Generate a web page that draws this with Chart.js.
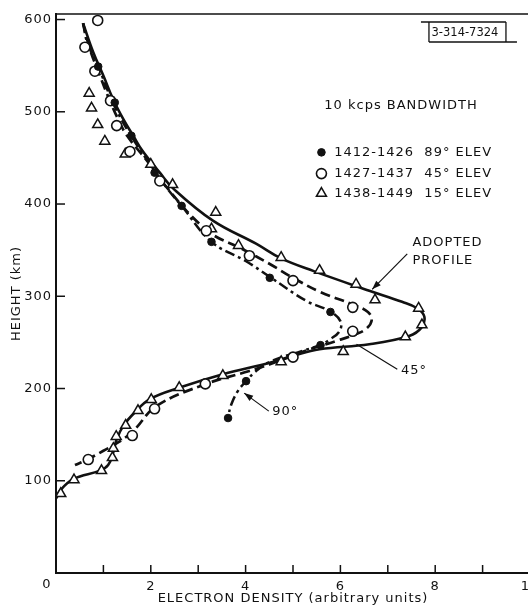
<!DOCTYPE html>
<html>
<head>
<meta charset="utf-8">
<script src="https://cdn.jsdelivr.net/npm/chart.js@4.4.1/dist/chart.umd.min.js"></script>
<style>
  html, body { margin: 0; padding: 0; background: #fff; overflow: hidden; width: 528px; height: 614px; }
  canvas { display: block; }
</style>
</head>
<body>
<canvas id="profile" width="560" height="614"></canvas>
<script>
// Electron density vs height, 10 kcps bandwidth, three passes
const xTicks = [0, 1, 2, 3, 4, 5, 6, 7, 8, 9, 10];
const yTicks = [0, 100, 200, 300, 400, 500, 600];
const seriesLabels = ['1412-1426  89° ELEV', '1427-1437  45° ELEV', '1438-1449  15° ELEV'];

// measured points: [electron density, height km]
const pass89 = [[0.89,549],[1.24,510],[1.59,474],[2.08,434],[2.65,398],[3.28,359],[4.51,320],
  [5.79,283],[5.58,247],[4.01,208],[3.63,168]];
const pass45 = [[0.88,599],[0.61,570],[0.82,544],[1.15,512],[1.28,485],[1.56,457],[2.19,425],
  [3.17,371],[4.08,344],[5.0,317],[6.26,288],[6.26,262],[5.0,234],[3.15,205],[2.08,178],
  [1.61,149],[0.68,123]];
const pass15 = [[0.70,520],[0.75,504],[0.88,486],[1.03,468],[1.46,454],[2.0,443],[2.46,421],
  [3.37,391],[3.28,373],[3.85,355],[4.75,342],[5.56,328],[6.33,313],[6.73,296],[7.65,287],
  [7.72,269],[7.37,256],[6.06,240],[4.75,229],[3.52,214],[2.60,201],[2.01,188],[1.73,176],
  [1.47,160],[1.27,148],[1.21,135],[1.19,125],[0.96,111],[0.38,101],[0.10,86]];

// smoothed profiles, top to bottom
const curveAdopted = [[0.57,596],[0.79,564],[1.0,539],[1.21,513],[1.42,492],[1.63,474],[1.82,458],
  [2.19,434],[2.47,417],[3.31,382],[4.22,357],[4.75,341],[5.45,327],[6.61,306],[7.3,294],
  [7.62,287],[7.77,278],[7.71,266],[7.45,257],[6.61,248],[5.56,242.5],[5.0,235.5],[4.51,228],
  [3.52,215.5],[2.61,201],[1.98,188.5],[1.66,174],[1.42,159.5],[1.28,145],[1.21,131],[1.1,117],
  [0.93,111],[0.37,102],[0.08,89],[0.01,81]];
const curve45 = [[0.57,596],[0.72,567],[0.92,540],[1.12,514],[1.31,492],[1.5,474],[1.98,443],
  [2.19,427],[3.17,372],[3.94,351],[4.51,335],[5.0,320],[5.56,305],[6.26,291],[6.58,283],
  [6.66,274],[6.55,265],[6.33,259],[5.91,251.5],[5.35,242.5],[5.0,235.5],[4.5,226],[4.08,219],
  [3.17,205],[2.12,181],[1.63,154],[1.31,141.5],[1.0,132.5],[0.68,123.5],[0.4,117]];
const curve90 = [[0.57,596],[0.66,575],[0.9,548],[1.2,510],[1.57,475],[2.08,436],[2.36,416],
  [2.65,398],[3.28,359],[4.01,338],[4.51,321],[5.28,295],[5.77,284],[6.0,273],[5.98,262],
  [5.77,253],[5.57,247],[5.21,241],[4.51,229],[4.2,218],[4.01,208],[3.84,197.5],[3.7,183],
  [3.62,167]];

const toPts = arr => arr.map(([x, y]) => ({ x, y }));
const INK = '#111';
const FONT = '"DejaVu Sans", "Liberation Sans", sans-serif';

Chart.defaults.font.family = FONT;
Chart.defaults.font.size = 13;
Chart.defaults.color = INK;

const markerStyles = [
  { pointStyle: 'circle', radius: 3.8, fill: INK, borderWidth: 1 },
  { pointStyle: 'circle', radius: 5, fill: '#fff', borderWidth: 1.6 },
  { pointStyle: 'triangle', radius: 5.8, fill: '#fff', borderWidth: 1.5 }
];

function markerDataset(label, data, st) {
  return {
    label, data: toPts(data), showLine: false,
    pointStyle: st.pointStyle, pointRadius: st.radius, pointHoverRadius: st.radius,
    pointBackgroundColor: st.fill, pointBorderColor: INK, pointBorderWidth: st.borderWidth
  };
}
function curveDataset(label, data, width, dash) {
  return {
    label, data: toPts(data), showLine: true, fill: false,
    borderColor: INK, borderWidth: width, borderDash: dash, tension: 0.4,
    pointRadius: 0, pointHoverRadius: 0, borderCapStyle: 'butt'
  };
}

function line(ctx, x1, y1, x2, y2) {
  ctx.beginPath(); ctx.moveTo(x1, y1); ctx.lineTo(x2, y2); ctx.stroke();
}
function arrow(ctx, x1, y1, x2, y2) {
  line(ctx, x1, y1, x2, y2);
  const a = Math.atan2(y2 - y1, x2 - x1), L = 9, W = 3.2;
  ctx.beginPath();
  ctx.moveTo(x2, y2);
  ctx.lineTo(x2 - L * Math.cos(a) + W * Math.sin(a), y2 - L * Math.sin(a) - W * Math.cos(a));
  ctx.lineTo(x2 - L * Math.cos(a) - W * Math.sin(a), y2 - L * Math.sin(a) + W * Math.cos(a));
  ctx.closePath(); ctx.fill();
}

const spacing = {
  id: 'spacing',
  beforeDraw(chart) { chart.ctx.letterSpacing = '1px'; }
};

const decor = {
  id: 'decor',
  afterDatasetsDraw(chart) {
    const { ctx, chartArea: a, scales: { x, y } } = chart;
    const X = v => x.getPixelForValue(v), Y = v => y.getPixelForValue(v);
    ctx.save();
    ctx.strokeStyle = INK; ctx.fillStyle = INK;

    // top frame
    ctx.lineWidth = 1.6;
    line(ctx, a.left, a.top, a.right, a.top);

    // inward tick marks
    ctx.lineWidth = 1.5;
    xTicks.forEach(v => { if (v > 0) line(ctx, X(v), a.bottom, X(v), a.bottom - 8); });
    yTicks.forEach(v => { if (v > 0) line(ctx, a.left, Y(v), a.left + 9, Y(v)); });

    ctx.letterSpacing = '1px';
    ctx.font = '13px ' + FONT;
    ctx.textBaseline = 'middle';
    ctx.textAlign = 'center';
    ctx.fillText('0', X(0) - 9, a.bottom + 12);

    // legend block
    ctx.textAlign = 'left';
    ctx.fillText('10 kcps BANDWIDTH', X(5.66), Y(507));
    const rows = [456, 433, 411.5];
    rows.forEach((h, i) => {
      const st = markerStyles[i];
      ctx.fillStyle = st.fill; ctx.strokeStyle = INK; ctx.lineWidth = st.borderWidth;
      Chart.helpers.drawPoint(ctx, { pointStyle: st.pointStyle, radius: st.radius, borderWidth: st.borderWidth, rotation: 0 }, X(5.6), Y(h));
      ctx.fillStyle = INK;
      ctx.fillText(seriesLabels[i], X(5.87), Y(h));
    });

    // curve labels and pointers
    ctx.fillText('ADOPTED', X(7.52), Y(358.5));
    ctx.fillText('PROFILE', X(7.52), Y(339));
    ctx.fillText('45°', X(7.28), Y(219));
    ctx.fillText('90°', X(4.56), Y(174.5));
    ctx.lineWidth = 1.2;
    arrow(ctx, X(7.41), Y(346), X(6.67), Y(307.5));
    line(ctx, X(7.2), Y(221), X(6.34), Y(248));
    arrow(ctx, X(4.49), Y(175.5), X(3.97), Y(195));

    // drawing number box
    const cx = X(8.67), cy = Y(586.5);
    ctx.letterSpacing = '0px';
    ctx.font = '11.5px ' + FONT;
    ctx.textAlign = 'center';
    ctx.fillText('3-314-7324', cx - 2, cy + 1);
    ctx.lineWidth = 1.3;
    line(ctx, cx - 46, cy - 10, cx + 39, cy - 10);
    line(ctx, cx - 38, cy - 10, cx - 38, cy + 10);
    line(ctx, cx + 39, cy - 10, cx + 39, cy + 10);
    line(ctx, cx - 38, cy + 10, cx + 50, cy + 10);
    ctx.restore();
  }
};

new Chart(document.getElementById('profile'), {
  type: 'scatter',
  data: {
    datasets: [
      markerDataset(seriesLabels[0], pass89, markerStyles[0]),
      markerDataset(seriesLabels[1], pass45, markerStyles[1]),
      markerDataset(seriesLabels[2], pass15, markerStyles[2]),
      curveDataset('ADOPTED PROFILE', curveAdopted, 2.6, []),
      curveDataset('45°', curve45, 2.7, [10, 5]),
      curveDataset('90°', curve90, 2.5, [10, 4, 3, 4])
    ]
  },
  options: {
    responsive: false,
    animation: false,
    layout: { padding: { top: 14, right: 30, left: 0, bottom: 0 } },
    plugins: { legend: { display: false }, tooltip: { enabled: false } },
    scales: {
      x: {
        type: 'linear', min: 0, max: 10,
        afterBuildTicks: s => { s.ticks = xTicks.map(v => ({ value: v })); },
        afterFit: s => { s.height = 41; },
        grid: { display: false, drawTicks: false },
        border: { display: true, color: INK, width: 2 },
        ticks: {
          autoSkip: false, maxRotation: 0, padding: 6,
          callback: v => (v > 0 && v % 2 === 0) ? String(v) : ''
        },
        title: { display: true, text: 'ELECTRON DENSITY (arbitrary units)', padding: { top: 0, bottom: 8 } }
      },
      y: {
        type: 'linear', min: 0, max: 606,
        afterBuildTicks: s => { s.ticks = yTicks.map(v => ({ value: v })); },
        afterFit: s => { s.width = 56; },
        grid: { display: false, drawTicks: false },
        border: { display: true, color: INK, width: 2 },
        ticks: { padding: 4, callback: v => v === 0 ? '' : String(v) },
        title: { display: true, text: 'HEIGHT (km)', padding: { top: 9, bottom: 0 } }
      }
    }
  },
  plugins: [spacing, decor]
});
</script>
</body>
</html>
